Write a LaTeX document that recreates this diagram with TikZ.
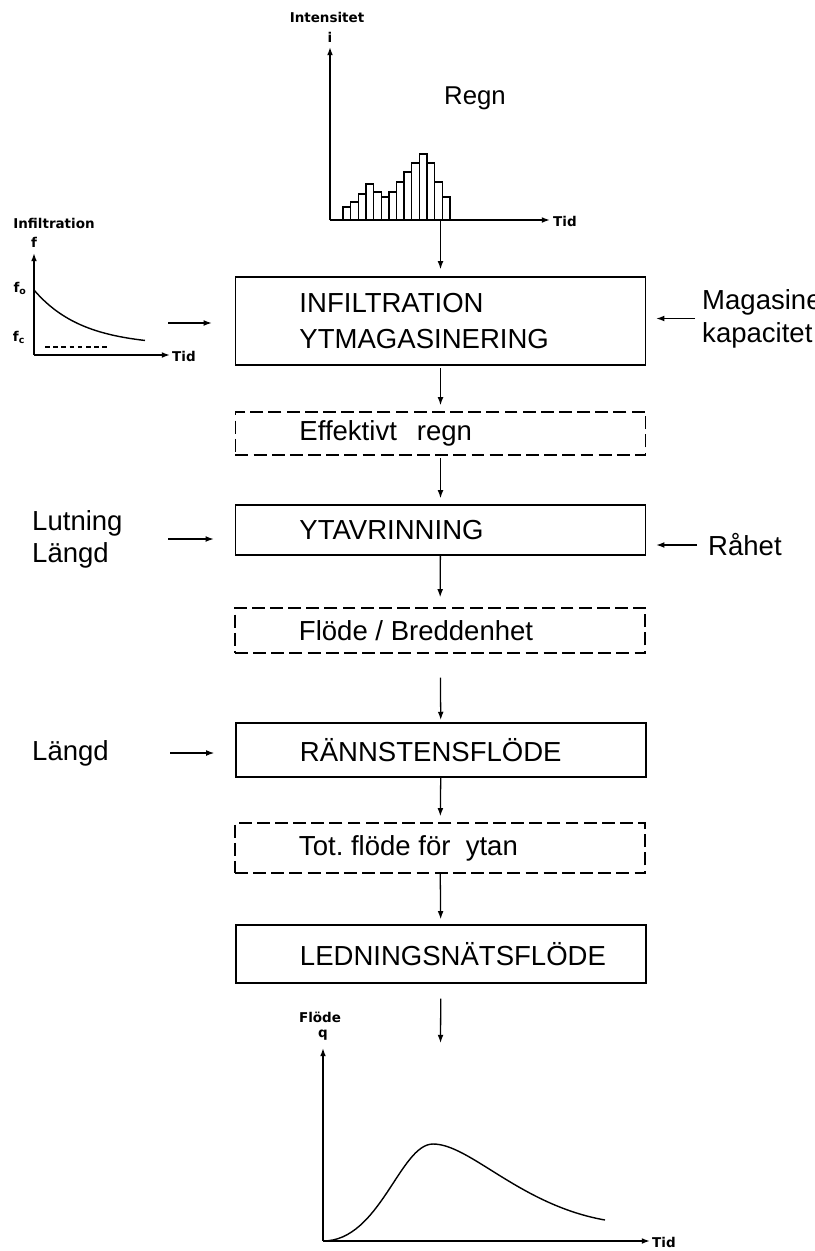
\documentclass[tikz,border=0pt]{standalone}
\usepackage{fontspec}
\setmainfont{Liberation Sans}
\newfontfamily\smallfam{DejaVu Sans}
\usetikzlibrary{arrows.meta, positioning, calc}
\newcommand\boxfont{\fontsize{23.5}{30.6}\selectfont}
\newcommand\axfont{\smallfam\bfseries\fontsize{11.5}{13}\selectfont}
\newcommand\boxline[1]{\makebox[8.46cm][l]{#1}}

\begin{document}
\begin{tikzpicture}[x=0.03cm, y=-0.03cm,
  flowbox/.style={draw, line width=1.2pt, minimum width=12.3cm, minimum height=1.5cm, inner sep=0pt, font=\boxfont},
  dashbox/.style={flowbox, dash pattern=on 11pt off 4.5pt},
  flow/.style={line width=1.1pt, -{Latex[length=7pt,width=5pt]}, shorten >=0.18cm},
  axis/.style={line width=1.3pt, -{Latex[length=7pt,width=5pt]}},
  lbl/.style={font=\fontsize{23.5}{27.5}\selectfont, inner sep=0pt, align=left},
  axlbl/.style={font=\axfont, inner sep=0pt}]
  % picture frame in pixels of the original (y downwards)
  \clip (0,0) rectangle (815,1251);
  % Regn: intensity bars
  \coordinate (iO) at (330,220);
  \draw[axis] (iO) -- (330,47);
  \draw[axis] (iO) -- (550,220);
  \foreach \h [count=\k from 0] in {13,18,26,36,28,23,28,38,48,57,66,57,38,23}
    \draw[line width=1.2pt] ({343+7.64*\k},220) rectangle ({343+7.64*(\k+1)},{220-\h});
  \node[axlbl] (intens) at (327,17) {Intensitet};
  \node[axlbl] (ilbl) at (330,37) {i};
  \node[axlbl, anchor=west] (tidA) at (553,221) {Tid};
  \node[font=\fontsize{22}{26}\selectfont] (regn) at (475,98) {Regn};
  \coordinate (rainout) at (440.5,220);
  % Infiltration curve f(t)
  \coordinate (fO) at (34,355);
  \draw[axis] (fO) -- (34,253);
  \draw[axis] (fO) -- (170,355);
  \draw[line width=1.2pt] plot[domain=34:145, samples=40] (\x, {346-56*exp(-(\x-34)/48)});
  \draw[line width=1pt, dash pattern=on 4pt off 3pt] (45,347) -- (107,347);
  \node[axlbl] (infl) at (54,223) {Infiltration};
  \node[axlbl] (flbl) at (34,242) {f};
  \node[axlbl] (fo) at (20,288) {f\textsubscript{o}};
  \node[axlbl] (fc) at (19,337) {f\textsubscript{c}};
  \node[axlbl, anchor=west] (tidB) at (172,356) {Tid};
  \coordinate (infin) at (168,323);
  % flow boxes
  \node[flowbox, minimum height=2.64cm, align=left] (infbox) at (440.5,321)
    {\boxline{INFILTRATION}\\\boxline{YTMAGASINERING}};
  \node[dashbox, minimum height=1.29cm] (effbox) at (440.5,433.5) {\boxline{Effektivt\hspace{0.6cm}regn}};
  \node[flowbox] (ytabox) at (440.5,530) {\boxline{YTAVRINNING}};
  \node[dashbox, minimum height=1.35cm] (flodbox) at (440,630.5) {\boxline{Flöde / Breddenhet}};
  \node[flowbox, minimum height=1.62cm] (rannbox) at (441,750) {\boxline{RÄNNSTENSFLÖDE}};
  \node[dashbox] (totbox) at (440,848) {\boxline{Tot.\ flöde för\ \ ytan}};
  \node[flowbox, minimum height=1.74cm] (ledbox) at (441,954) {\boxline{LEDNINGSNÄTSFLÖDE}};
  % side inputs
  \node[lbl, anchor=west] (lutning) at (32,539) {Lutning\\Längd};
  \node[lbl, anchor=west] (langd) at (32,753) {Längd};
  \node[lbl, anchor=west] (rahet) at (708,545) {Råhet};
  \node[lbl, anchor=west, font=\fontsize{23.5}{28}\selectfont] (magkap) at (702,318.5) {Magasinerings-\\kapacitet};
  % connectors
  \draw[flow, shorten >=0.21cm] (rainout) -- (infbox.north);
  \draw[flow, shorten >=0.69cm] (infin) -- (infin -| infbox.west);
  \draw[flow, shorten <=0.21cm, shorten >=0.3cm] (magkap.west) -- (magkap.west -| infbox.east);
  \draw[flow, shorten <=2pt] (infbox) -- (effbox);
  \draw[flow, shorten <=2pt] (effbox) -- (ytabox);
  \draw[flow, shorten <=1.36cm, shorten >=0.63cm] (lutning.east) -- (lutning.east -| ytabox.west);
  \draw[flow, shorten <=0.33cm, shorten >=0.3cm] (rahet.west) -- (rahet.west -| ytabox.east);
  \draw[flow, shorten >=0.3cm] (ytabox) -- (flodbox);
  \draw[flow, shorten <=0.72cm, shorten >=2pt] (flodbox) -- (rannbox);
  \draw[flow, shorten <=1.83cm, shorten >=0.63cm] (langd.east) -- (langd.east -| rannbox.west);
  \draw[flow] (rannbox) -- (totbox);
  \draw[flow, shorten >=0.15cm] (totbox) -- (ledbox);
  \coordinate (qin) at (440.5,1043);
  \draw[flow, shorten <=0.45cm, shorten >=0pt] (ledbox) -- (qin);
  % Flöde q(t): outflow hydrograph
  \coordinate (qO) at (323,1241);
  \draw[axis] (qO) -- (323,1048);
  \draw[axis] (qO) -- (650,1241);
  \draw[line width=1.2pt] (qO) .. controls (380,1241) and (400,1144) .. (433,1144)
    .. controls (470,1144) and (520,1205) .. (605,1220);
  \node[axlbl] (flode) at (320,1017) {Flöde};
  \node[axlbl] (qlbl) at (323,1035) {q};
  \node[axlbl, anchor=west] (tidC) at (652,1242) {Tid};
\end{tikzpicture}
\end{document}
